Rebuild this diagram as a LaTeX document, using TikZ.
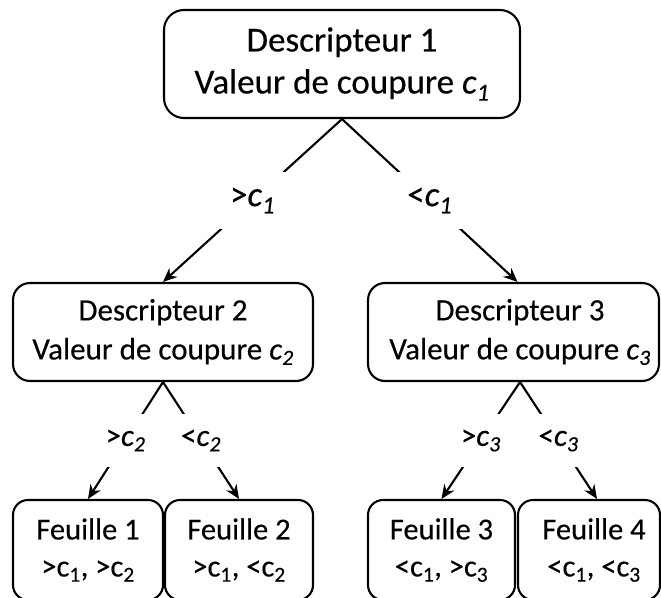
\documentclass[tikz,border=0pt]{standalone}
\usepackage{fontspec}
\setmainfont{Carlito}[FakeBold=0.35]
\usetikzlibrary{arrows.meta}
\tikzset{
  box/.style={draw, line width=2.1pt, align=center, inner sep=0pt},
  topbox/.style={box, rounded corners=20pt, font=\fontsize{35}{42}\selectfont},
  midbox/.style={box, rounded corners=17pt, minimum height=98pt, font=\fontsize{31}{39}\selectfont},
  leafbox/.style={box, rounded corners=15pt, minimum height=100pt, font=\fontsize{30.5}{37}\selectfont},
  toplab/.style={fill=white, inner sep=0pt, minimum width=72pt, minimum height=57pt, font=\fontsize{35}{42}\selectfont},
  midlab/.style={fill=white, inner sep=0pt, minimum width=56pt, minimum height=53pt, font=\fontsize{31}{39}\selectfont},
  arr/.style={line width=2.1pt, -{Stealth[length=14pt,width=12pt]}}
}
\newcommand{\ci}[1]{\textit{c\textsubscript{#1}}}
\newcommand{\cu}[1]{c\textsubscript{#1}}
\begin{document}
\begin{tikzpicture}[x=1pt,y=-1pt]
\useasboundingbox (0,0) rectangle (661,597);
\clip (0,0) rectangle (661,597);
\node[topbox, minimum width=356pt, minimum height=108pt] (d1) at (342,64) {Descripteur 1\\Valeur de coupure \ci{1}};
\node[midbox, minimum width=300pt] (d2) at (163,332) {Descripteur 2\\Valeur de coupure \ci{2}};
\node[midbox, minimum width=291pt] (d3) at (513.5,332) {\hspace*{13pt}Descripteur 3\\\hspace*{13pt}Valeur de coupure \ci{3}};
\node[leafbox, minimum width=150pt] (f1) at (88,550) {Feuille 1\\>\cu{1}, >\cu{2}};
\node[leafbox, minimum width=148pt] (f2) at (239,550) {Feuille 2\\>\cu{1}, <\cu{2}};
\node[leafbox, minimum width=147pt] (f3) at (441.5,550) {Feuille 3\\<\cu{1}, >\cu{3}};
\node[leafbox, minimum width=142pt] (f4) at (589,550) {\hspace*{10pt}Feuille 4\\\hspace*{10pt}<\cu{1}, <\cu{3}};
\draw[arr] (d1.south) -- node[toplab] {>\ci{1}} (d2.north);
\draw[arr] (d1.south) -- node[toplab] {<\ci{1}} ([xshift=4pt]d3.north);
\draw[arr] (d2.south) -- node[midlab] {>\ci{2}} (f1.north);
\draw[arr] (d2.south) -- node[midlab] {<\ci{2}} (f2.north);
\draw[arr] ([xshift=6.5pt]d3.south) -- node[midlab] {>\ci{3}} (f3.north);
\draw[arr] ([xshift=6.5pt]d3.south) -- node[midlab] {<\ci{3}} ([xshift=8pt]f4.north);
\end{tikzpicture}
\end{document}
